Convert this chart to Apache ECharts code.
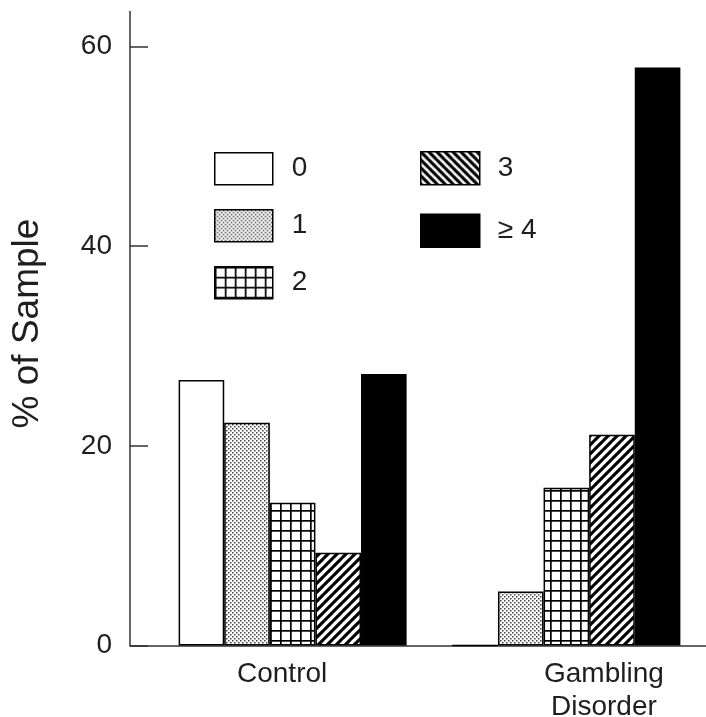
<!DOCTYPE html>
<html>
<head>
<meta charset="utf-8">
<script src="https://cdn.jsdelivr.net/npm/echarts@6/dist/echarts.min.js"></script>
<style>html,body{margin:0;padding:0;background:#fff}#c{width:706px;height:717px}</style>
</head>
<body>
<div id="c"></div>
<script>
const categories = ['Control', 'Gambling\nDisorder'];
const seriesNames = ['0', '1', '2', '3', '≥ 4'];
const count0 = [26.6, 0];
const count1 = [22.3, 5.4];
const count2 = [14.3, 15.8];
const count3 = [9.3, 21.1];
const count4 = [27.2, 57.9];
const yTicks = [0, 20, 40, 60];
const yTitle = '% of Sample';

const FONT = '"Liberation Sans", Arial, sans-serif';
const TXT = '#1e1e1e';

function tile(size, draw) {
  const c = document.createElement('canvas');
  c.width = size; c.height = size;
  const g = c.getContext('2d');
  g.fillStyle = '#fff'; g.fillRect(0, 0, size, size);
  draw(g, size);
  return { image: c, repeat: 'repeat' };
}
const dots = tile(4, (g) => { g.fillStyle = '#404040'; g.fillRect(0, 0, 1.5, 1.5); g.fillRect(2, 2, 1.5, 1.5); });
const grid = tile(10, (g, s) => { g.fillStyle = '#000'; g.fillRect(0, 0, s, 1.7); g.fillRect(0, 0, 1.7, s); });
function hatch(size, back) {
  return tile(size, (g, s) => {
    g.strokeStyle = '#000'; g.lineWidth = 3.1; g.beginPath();
    if (!back) {
      g.moveTo(-1, s + 1); g.lineTo(s + 1, -1);
      g.moveTo(-1, 1); g.lineTo(1, -1);
      g.moveTo(s - 1, s + 1); g.lineTo(s + 1, s - 1);
    } else {
      g.moveTo(-1, -1); g.lineTo(s + 1, s + 1);
      g.moveTo(s - 1, -1); g.lineTo(s + 1, 1);
      g.moveTo(-1, s - 1); g.lineTo(1, s + 1);
    }
    g.stroke();
  });
}
const hatchFwd = hatch(9, false);
const hatchBack = hatch(8, true);

const values = [count0, count1, count2, count3, count4];
const fills = ['#ffffff', dots, grid, hatchFwd, '#000000'];

const chart = echarts.init(document.getElementById('c'), null, { renderer: 'canvas' });
const gridTop = 11.5, gridBottom = 71.5;

const series = seriesNames.map((n, i) => ({
  name: n,
  type: 'bar',
  xAxisIndex: 0, yAxisIndex: 0,
  data: values[i],
  barWidth: 45.6,
  barGap: '0%',
  itemStyle: { color: fills[i], borderColor: '#000', borderWidth: 1.5 },
  emphasis: { disabled: true },
  animation: false
}));

const legendText = { color: TXT, fontSize: 28, fontFamily: FONT, padding: [0, 0, 0, 14], lineHeight: 32 };

chart.setOption({
  animation: false,
  grid: [
    { left: 155.75, right: 2.75, top: gridTop, bottom: gridBottom, containLabel: false, outerBoundsMode: 'none' },
    { left: 130, right: 0, top: gridTop, bottom: gridBottom, containLabel: false, outerBoundsMode: 'none' }
  ],
  legend: [
    {
      data: [seriesNames[0], seriesNames[1], seriesNames[2]],
      orient: 'vertical', left: 214, top: 152, padding: 0,
      itemWidth: 58, itemHeight: 32, itemGap: 23.5,
      icon: 'rect', selectedMode: false,
      itemStyle: { borderColor: '#000', borderWidth: 1.5 },
      textStyle: legendText
    },
    {
      data: [{ name: seriesNames[3], itemStyle: { color: hatchBack } }, seriesNames[4]],
      orient: 'vertical', left: 420, top: 151, padding: 0,
      itemWidth: 59, itemHeight: 33, itemGap: 28,
      icon: 'rect', selectedMode: false,
      itemStyle: { borderColor: '#000', borderWidth: 1.5 },
      textStyle: Object.assign({}, legendText, { padding: [0, 0, 0, 13] })
    }
  ],
  xAxis: [
    {
      gridIndex: 0, type: 'category',
      data: [
        { value: categories[0], textStyle: { padding: [0, 21, 0, 0] } },
        { value: categories[1], textStyle: { padding: [0, 0, 0, 75] } }
      ],
      axisLine: { show: false }, axisTick: { show: false },
      axisLabel: { color: TXT, fontSize: 28, fontFamily: FONT, margin: 12, lineHeight: 33, interval: 0 },
      splitLine: { show: false }
    },
    {
      gridIndex: 1, type: 'category', data: categories,
      axisLine: { show: true, lineStyle: { color: '#333', width: 1.5 } },
      axisTick: { show: false }, axisLabel: { show: false }, splitLine: { show: false }
    }
  ],
  yAxis: [
    {
      gridIndex: 0, type: 'value', min: 0, max: 63.5, interval: 20, offset: 25.75,
      name: yTitle, nameLocation: 'middle', nameGap: 84,
      nameTextStyle: { color: TXT, fontSize: 37, fontFamily: FONT, padding: [0, 0, 0, 10] },
      axisLine: { show: true, lineStyle: { color: '#333', width: 1.5 } },
      axisTick: { show: true, inside: true, length: 18, customValues: yTicks, lineStyle: { color: '#333', width: 1.5 } },
      axisLabel: { color: TXT, fontSize: 28, fontFamily: FONT, margin: 18, customValues: yTicks },
      splitLine: { show: false }
    },
    { gridIndex: 1, type: 'value', show: false, min: 0, max: 63.5 }
  ],
  series: series
});
</script>
</body>
</html>
